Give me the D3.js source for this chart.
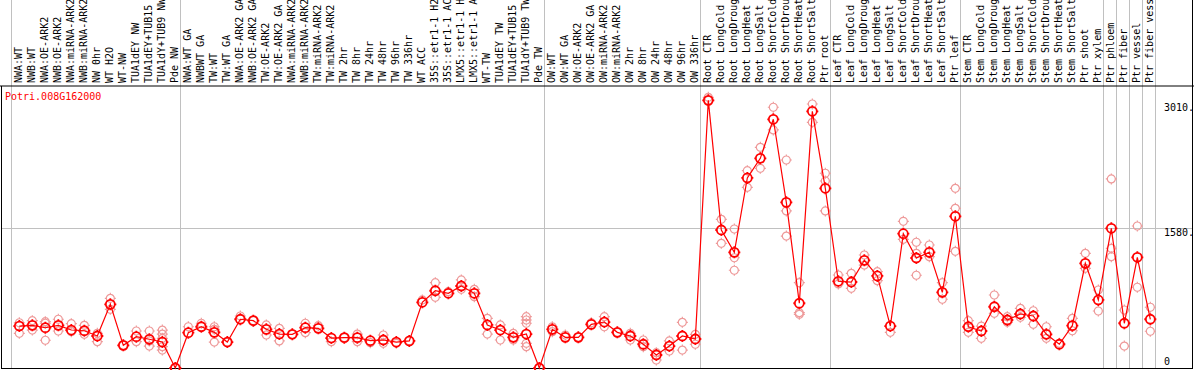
<!DOCTYPE html>
<html>
<head>
<meta charset="utf-8">
<script src="https://cdn.jsdelivr.net/npm/d3@7"></script>
<style>
  body { margin: 0; background: #fff; }
  svg { display: block; }
  text { font-family: "DejaVu Sans Mono", monospace; font-size: 10px; }
</style>
</head>
<body>
<div class="chart-container"></div>
<script>
////////////////////////////////// data

var geneName = "Potri.008G162000";

var samples = [
    "NWA:WT","NWB:WT","NWA:OE-ARK2","NWB:OE-ARK2","NWA:miRNA-ARK2","NWB:miRNA-ARK2","NW 0hr","WT H2O","WT-NW",
    "TUA1dEY NW","TUA1dEY+TUB15 NW","TUA1dY+TUB9 NW","Pde NW",
    "NWA:WT GA","NWBWT GA","TW:WT","TW:WT GA","NWA:OE-ARK2 GA","NWB:OE-ARK2 GA","TW:OE-ARK2","TW:OE-ARK2 GA",
    "NWA:miRNA-ARK2 GA","NWB:miRNA-ARK2 GA","TW:miRNA-ARK2","TW:miRNA-ARK2 GA","TW 2hr","TW 8hr","TW 24hr","TW 48hr",
    "TW 96hr","TW 336hr","WT ACC","35S::etr1-1 H2O","35S::etr1-1 ACC","LMX5::etr1-1 H2O","LMX5::etr1-1 ACC","WT-TW",
    "TUA1dEY TW","TUA1dEY+TUB15 TW","TUA1dY+TUB9 TW","Pde TW",
    "OW:WT","OW:WT GA","OW:OE-ARK2","OW:OE-ARK2 GA","OW:miRNA-ARK2","OW:miRNA-ARK2 GA","OW 2hr","OW 8hr","OW 24hr",
    "OW 48hr","OW 96hr","OW 336hr",
    "Root CTR","Root LongCold","Root LongDrought","Root LongHeat","Root LongSalt","Root ShortCold","Root ShortDrought",
    "Root ShortHeat","Root ShortSalt","Ptr root",
    "Leaf CTR","Leaf LongCold","Leaf LongDrought","Leaf LongHeat","Leaf LongSalt","Leaf ShortCold","Leaf ShortDrought",
    "Leaf ShortHeat","Leaf ShortSalt","Ptr leaf",
    "Stem CTR","Stem LongCold","Stem LongDrought","Stem LongHeat","Stem LongSalt","Stem ShortCold","Stem ShortDrought",
    "Stem ShortHeat","Stem ShortSalt","Ptr shoot","Ptr xylem",
    "Ptr phloem","Ptr fiber","Ptr vessel","Ptr fiber vessel"
];

// number of samples in each block (blocks are split by grey lines)
var groupSizes = [13, 28, 12, 10, 10, 11, 1, 1, 1, 1];

var means = [
    472,480,453,480,427,419,360,716,255,352,323,292,0,
    397,464,401,292,548,532,435,382,379,453,446,337,341,341,307,315,292,304,739,869,840,922,840,484,427,345,382,0,
    435,345,345,491,517,401,360,267,146,247,360,326,
    3010,1552,1301,2137,2358,2797,1863,728,2887,2021,
    975,967,1211,1035,472,1510,1237,1301,851,1706,
    464,416,689,540,607,585,379,267,476,1177,765,
    1571,503,1245,548
];

var replicates = [
    [509,390],[532,427],[521,503,312],[548,416],[498,408],[480,379],[390,296],[784,660],[255],[416,296],
    [416,304,247],[427,382,334,240,202],[0],
    [464],[503],[464,435,292],[292],[585],[532],[484,371],[446,304],[379],[503,397],[476],[296],[341],[382,296],
    [285],[371,278],[278],[304],[765],[959,795],[858],[990,885],[885,802],[559,382],[484,315],[390,315],
    [577,540,503,278,240],[0],
    [464,408],[371],[345],[509],[577,464],[401],[390,315],[315,240],[172,90],[304,191],[514,202],[379,267],
    [3044,3010],[1672,1402],[1563,1240,1099],[2219,2032],[2482,2246],[2932,2677],[2339,1766,1484],[959,622,604],
    [2969,2763],[2190,2103,1766],
    [1046,945],[1065,896],[1271,1158],[1083,982],[401],[1650,1447],[1414,1290,1043],[1383,1252],[959,773],
    [2021,1796,1312],
    [532,401],[472,334],[821,615],[577,514],[671,570],[644,491],[464,334],[278],[559,419],[1290,1121],[877,641],
    [2126,1346,1252],[652,247],[1597,908],[683,413]
];

var yMax = 3160;
var tickValues = [3010, 1580, 0];
var tickLabels = ["3010.", "1580.", "0"];

var expressionChart = (function() {

    var exports = {};

////////////////////////////////// helper functions

    // circle with four little nubs, like the old cgi plots
    function markerPath(r, t){
        return "M" + r + ",0A" + r + "," + r + " 0 1,1 " + (-r) + ",0A" + r + "," + r + " 0 1,1 " + r + ",0" +
            "M0," + (-r) + "V" + (-r - t) + "M0," + r + "V" + (r + t) +
            "M" + (-r) + ",0H" + (-r - t) + "M" + r + ",0H" + (r + t);
    }

    // start index of each block
    function groupStarts(){
        var starts = [], acc = 0;
        groupSizes.forEach(function(n){ starts.push(acc); acc += n; });
        starts.push(acc);
        return starts;
    }

/////////////////////////////////// view

    function View(div){
        var width = 1194, height = 370;
        var labelBottom = 86, plotBottom = 368.5;

        var svg = d3.select(div).append("svg")
            .attr("width", width).attr("height", height);

        svg.append("rect").attr("width", width).attr("height", height).attr("fill", "#fff");

        var x = d3.scaleBand().domain(d3.range(samples.length)).range([11, 1155]).padding(0);
        var px = function(i){ return x(i) + x.bandwidth() * 0.64; };
        var y = d3.scaleLinear().domain([0, yMax]).range([368, 87]);

        // grey block separators, full height
        svg.selectAll(".sep").data(groupStarts()).enter().append("line")
            .attr("class", "sep")
            .attr("x1", function(d){ return x(d) !== undefined ? x(d) + 0.5 : 1155.5; })
            .attr("x2", function(d){ return x(d) !== undefined ? x(d) + 0.5 : 1155.5; })
            .attr("y1", 0).attr("y2", plotBottom)
            .style("stroke", "#c0c0c0");

        // mid grid line
        svg.append("line")
            .attr("x1", 1.5).attr("x2", 1193)
            .attr("y1", Math.round(y(tickValues[1])) + 0.5).attr("y2", Math.round(y(tickValues[1])) + 0.5)
            .style("stroke", "#c0c0c0");

        // frame
        svg.append("line").attr("x1", 0).attr("x2", width).attr("y1", labelBottom).attr("y2", labelBottom)
            .style("stroke", "#000");
        svg.append("line").attr("x1", 1.5).attr("x2", 1.5).attr("y1", labelBottom).attr("y2", plotBottom + 0.5)
            .style("stroke", "#000");
        svg.append("line").attr("x1", 1192.5).attr("x2", 1192.5).attr("y1", 0).attr("y2", plotBottom + 0.5)
            .style("stroke", "#000");
        svg.append("line").attr("x1", 1.5).attr("x2", 1193).attr("y1", plotBottom).attr("y2", plotBottom)
            .style("stroke", "#000");

        // rotated sample labels
        svg.selectAll(".sample").data(samples).enter().append("text")
            .attr("class", "sample")
            .attr("transform", function(d, i){ return "translate(" + (px(i) + 3) + ",83) rotate(-90)"; })
            .attr("fill", "#000")
            .text(function(d){ return d; });

        // gene name
        svg.append("text").attr("x", 5).attr("y", 100).attr("fill", "#f00").text(geneName);

        // right-hand value labels
        svg.selectAll(".tick-label").data(tickValues).enter().append("text")
            .attr("class", "tick-label")
            .attr("x", 1164)
            .attr("y", function(d, i){ return i === 2 ? y(d) - 3 : y(d) + (i === 0 ? 11 : 8); })
            .attr("fill", "#000")
            .text(function(d, i){ return tickLabels[i]; });

        // replicate points
        var repPoints = [];
        replicates.forEach(function(reps, i){
            reps.forEach(function(v){ repPoints.push({i: i, v: v}); });
        });
        svg.selectAll(".rep").data(repPoints).enter().append("path")
            .attr("class", "rep")
            .attr("d", markerPath(4, 1.5))
            .attr("transform", function(d){ return "translate(" + px(d.i) + "," + y(d.v) + ")"; })
            .style("fill", "none").style("stroke", "#e99").style("stroke-width", 1.2);

        // mean line
        var line = d3.line().x(function(d, i){ return px(i); }).y(function(d){ return y(d); });
        svg.append("path").datum(means)
            .attr("d", line)
            .style("fill", "none").style("stroke", "#f00").style("stroke-width", 1.2);

        // mean points
        svg.selectAll(".mean").data(means).enter().append("path")
            .attr("class", "mean")
            .attr("d", markerPath(4.5, 1.5))
            .attr("transform", function(d, i){ return "translate(" + px(i) + "," + y(d) + ")"; })
            .style("fill", "none").style("stroke", "#f00").style("stroke-width", 1.8);

        return {svg: svg};
    }

    function setup(div){
        View(div);
    }

    exports.setup = setup;
    return exports;
}());

expressionChart.setup(".chart-container");
</script>
</body>
</html>
